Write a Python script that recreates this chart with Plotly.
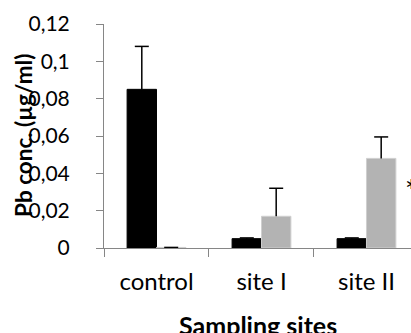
import plotly.graph_objects as go

categories = ["control", "site I", "site II"]
series1_values = [0.085, 0.005, 0.005]
series1_errors = [0.023, 0.0004, 0.0004]
series2_values = [0.0003, 0.017, 0.048]
series2_errors = [0.0, 0.015, 0.0115]
y_ticks = [0, 0.02, 0.04, 0.06, 0.08, 0.1, 0.12]

FONT = "Lato"
GAP = 0.44

fig = go.Figure()
for vals, errs, col, lc, grp in [
    (series1_values, series1_errors, "#000000", "#000000", "a"),
    (series2_values, series2_errors, "#b3b3b3", "#cfcfcf", "b"),
]:
    fig.add_trace(go.Bar(x=categories, y=vals, offsetgroup=grp,
                         marker=dict(color=col, line=dict(color=lc, width=1)),
                         showlegend=False))
for vals, errs, grp in [
    (series1_values, series1_errors, "a"),
    (series2_values, series2_errors, "b"),
]:
    tops = [v + e for v, e in zip(vals, errs)]
    fig.add_trace(go.Scatter(x=categories, y=tops, offsetgroup=grp, mode="markers",
                             marker=dict(symbol="line-ew", size=10,
                                         line=dict(color="#000000", width=1.5)),
                             error_y=dict(type="data", symmetric=False, array=[0]*3,
                                          arrayminus=errs, width=0, color="#000000",
                                          thickness=1.5),
                             showlegend=False, cliponaxis=False))

fig.add_annotation(x=2.345, y=0.031, xref="x", yref="y", text="*", showarrow=False,
                   xanchor="left", yanchor="middle",
                   font=dict(family=FONT, size=30, color="#000"))
fig.add_annotation(x=0, y=0.5, xref="paper", yref="paper", xshift=-81, textangle=-90,
                   xanchor="center", yanchor="middle",
                   text="<b>Pb conc. (µg/ml)</b>", showarrow=False,
                   font=dict(family=FONT, size=22.5, color="#000"))
fig.add_annotation(x=0.5, y=0, xref="paper", yref="paper", yshift=-60,
                   xanchor="center", yanchor="top",
                   text="<b>Sampling sites</b>", showarrow=False,
                   font=dict(family=FONT, size=25, color="#000"))

fig.update_layout(
    width=411, height=333,
    margin=dict(l=104, r=0, t=24, b=85),
    paper_bgcolor="white", plot_bgcolor="white",
    barmode="group", bargap=GAP, bargroupgap=0,
    scattermode="group", scattergap=GAP,
    separators=", ",
    font=dict(family=FONT, size=21, color="#000"),
)
fig.update_xaxes(type="category", range=[-0.5, 2.424], showline=True, linecolor="#868686",
                 linewidth=1, ticks="outside", tickson="boundaries", ticklen=8,
                 tickcolor="#868686", showgrid=False, zeroline=False,
                 ticklabelstandoff=12,
                 tickfont=dict(family=FONT, size=24, color="#000"))
fig.update_yaxes(range=[0, 0.12], tickvals=y_ticks, showline=True, linecolor="#868686",
                 linewidth=1, ticks="outside", ticklen=7, tickcolor="#868686",
                 showgrid=False, zeroline=False, ticklabelstandoff=22,
                 tickfont=dict(family=FONT, size=21, color="#000"))

fig.write_html("out.html", config={"displayModeBar": False},
               post_script="document.body.style.margin='0';document.body.style.overflow='hidden';")
